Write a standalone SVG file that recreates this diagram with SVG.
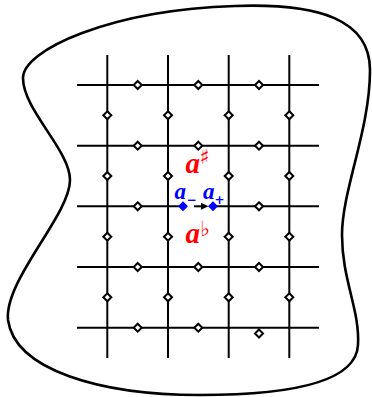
<svg xmlns="http://www.w3.org/2000/svg" width="372" height="397" viewBox="0 0 372 397">
<style>
.grid{stroke:#000;stroke-width:2;fill:none}
.blob{stroke:#000;stroke-width:2.6;fill:none}
.dw{fill:#fff;stroke:#000;stroke-width:2}
.db{fill:#0000ff;stroke:none}
.red{fill:#ff0000}
.blue{fill:#0000ff}
.ai{font-family:"Liberation Serif","Times New Roman",serif;font-style:italic;font-weight:bold}
.sym{font-family:"DejaVu Sans",sans-serif;font-style:italic;font-weight:bold}
.sub{font-family:"DejaVu Sans",sans-serif;font-weight:bold}
</style>
<defs>
<path id="dm" d="M0,-4 L4,0 L0,4 L-4,0 Z"/>
<path id="dmb" d="M0,-5 L5,0 L0,5 L-5,0 Z"/>
</defs>
<path id="region" class="blob" d="M23,78 C23,50 110,10 235,6 C320,3 370,20 370,70 C370,130 342,190 342,235 C342,280 360,310 358,345 C356,385 280,395 200,395 C100,395 15,370 8,320 C4,280 70,215 70,180 C70,150 23,110 23,78 Z"/>
<g id="connectors">
<line class="grid" x1="107.3" y1="55" x2="107.3" y2="358"/>
<line class="grid" x1="168" y1="55" x2="168" y2="358"/>
<line class="grid" x1="228.7" y1="55" x2="228.7" y2="358"/>
<line class="grid" x1="289.3" y1="55" x2="289.3" y2="358"/>
<line class="grid" x1="77" y1="85" x2="319" y2="85"/>
<line class="grid" x1="77" y1="145.7" x2="319" y2="145.7"/>
<line class="grid" x1="77" y1="206.3" x2="183" y2="206.3"/>
<line class="grid" x1="213" y1="206.3" x2="319" y2="206.3"/>
<line class="grid" x1="77" y1="267" x2="319" y2="267"/>
<line class="grid" x1="77" y1="327.7" x2="319" y2="327.7"/>
<line class="grid" x1="194" y1="206.3" x2="202" y2="206.3"/>
<polygon points="201,202.8 208.5,206.3 201,209.8" fill="#000"/>
</g>
<g id="nodes">
<g id="h-row0"><use href="#dm" class="dw" x="137.7" y="85"/><use href="#dm" class="dw" x="198.3" y="85"/><use href="#dm" class="dw" x="259" y="85"/></g>
<g id="h-row1"><use href="#dm" class="dw" x="137.7" y="145.7"/><use href="#dm" class="dw" x="198.3" y="145.7"/><use href="#dm" class="dw" x="259" y="145.7"/></g>
<g id="h-row2"><use href="#dm" class="dw" x="137.7" y="206.3"/><use href="#dm" class="dw" x="259" y="206.3"/></g>
<g id="h-row3"><use href="#dm" class="dw" x="137.7" y="267"/><use href="#dm" class="dw" x="198.3" y="267"/><use href="#dm" class="dw" x="259" y="267"/></g>
<g id="h-row4"><use href="#dm" class="dw" x="137.7" y="327.7"/><use href="#dm" class="dw" x="198.3" y="327.7"/><use href="#dm" class="dw" x="259" y="333.5"/></g>
<g id="v-col0"><use href="#dm" class="dw" x="107.3" y="115.3"/><use href="#dm" class="dw" x="107.3" y="176"/><use href="#dm" class="dw" x="107.3" y="236.7"/><use href="#dm" class="dw" x="107.3" y="297.3"/></g>
<g id="v-col1"><use href="#dm" class="dw" x="168" y="115.3"/><use href="#dm" class="dw" x="168" y="176"/><use href="#dm" class="dw" x="168" y="236.7"/><use href="#dm" class="dw" x="168" y="297.3"/></g>
<g id="v-col2"><use href="#dm" class="dw" x="228.7" y="115.3"/><use href="#dm" class="dw" x="228.7" y="176"/><use href="#dm" class="dw" x="228.7" y="236.7"/><use href="#dm" class="dw" x="228.7" y="297.3"/></g>
<g id="v-col3"><use href="#dm" class="dw" x="289.3" y="115.3"/><use href="#dm" class="dw" x="289.3" y="176"/><use href="#dm" class="dw" x="289.3" y="236.7"/><use href="#dm" class="dw" x="289.3" y="297.3"/></g>
<g id="a-minus"><use href="#dmb" class="db" x="183" y="206.3"/><text class="ai blue" x="174.5" y="198.5" font-size="23">a</text><text class="sub blue" x="186.5" y="203.5" font-size="12">−</text></g>
<g id="a-plus"><use href="#dmb" class="db" x="213" y="206.3"/><text class="ai blue" x="203" y="198.5" font-size="23">a</text><text class="sub blue" x="214.5" y="203.5" font-size="12">+</text></g>
<g id="a-sharp"><text class="ai red" x="185.5" y="173" font-size="29">a</text><text class="sym red" x="199.5" y="164" font-size="21">♯</text></g>
<g id="a-flat"><text class="ai red" x="185.5" y="243" font-size="29">a</text><text class="sym red" x="200" y="236" font-size="21">♭</text></g>
</g>
</svg>
